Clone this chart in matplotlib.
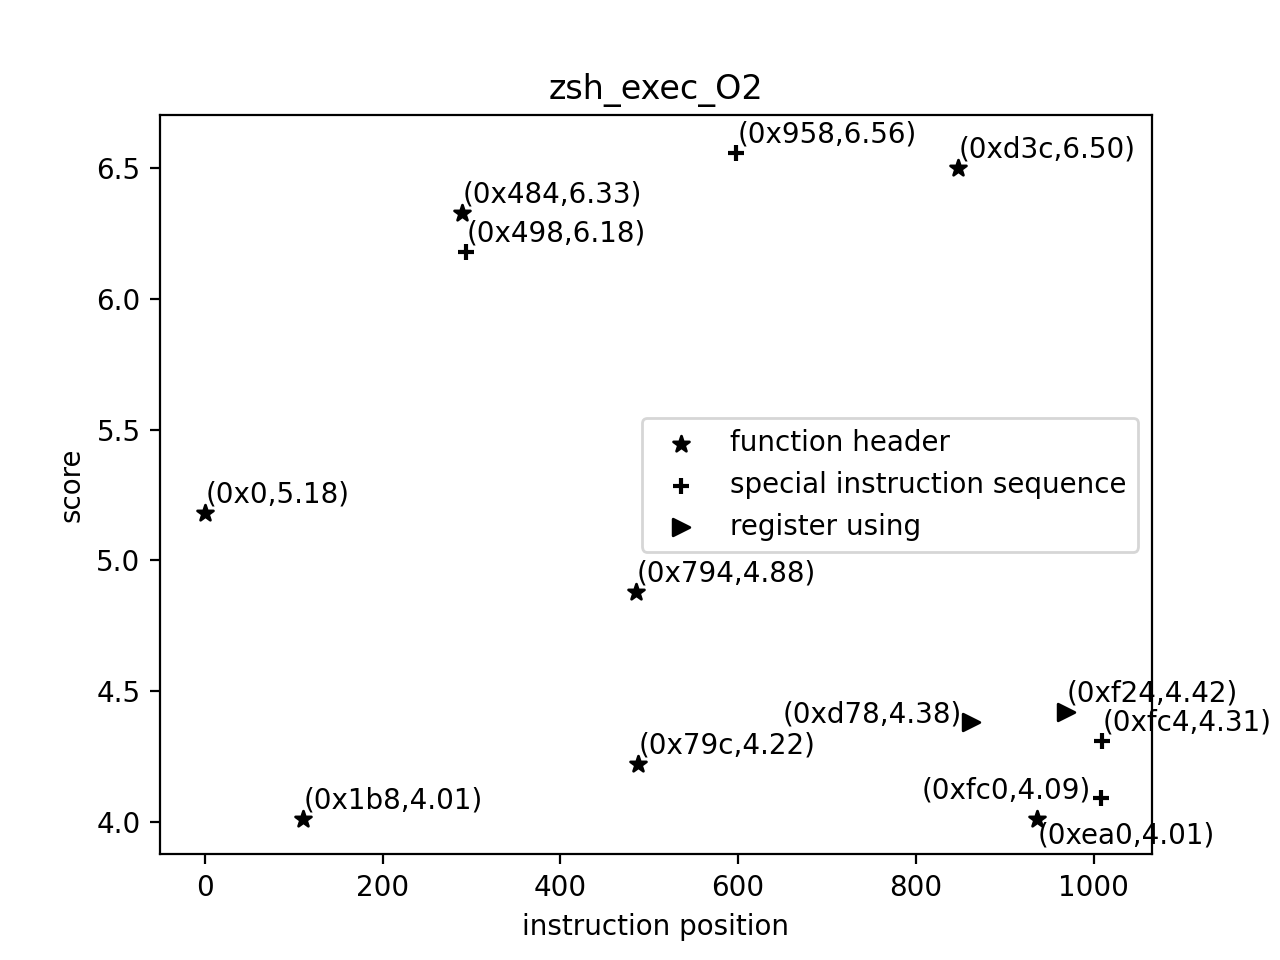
import matplotlib
matplotlib.use('Agg')
import matplotlib.pyplot as plt

# function header
header_hex = ['0x0', '0x1b8', '0x484', '0x794', '0x79c', '0xd3c', '0xea0']
header_pos = [0, 110, 289, 485, 487, 847, 936]
header_score = [5.18, 4.01, 6.33, 4.88, 4.22, 6.50, 4.01]

# special instruction sequence
special_hex = ['0x498', '0x958', '0xfc0', '0xfc4']
special_pos = [294, 598, 1008, 1009]
special_score = [6.18, 6.56, 4.09, 4.31]

# register using
register_hex = ['0xd78', '0xf24']
register_pos = [862, 969]
register_score = [4.38, 4.42]

# label placement (offset in points, horizontal alignment)
DEFAULT_OFFSET = ((0.3, 3.8), 'left')
LABEL_OFFSETS = {
    '0xea0': ((0.2, -8.6), 'left'),
    '0xfc0': ((-3.6, 0.0), 'right'),
    '0xd78': ((-3.2, 0.0), 'right'),
}


def annotate(ax, hexes, pos, scores):
    for h, x, y in zip(hexes, pos, scores):
        offset, ha = LABEL_OFFSETS.get(h, DEFAULT_OFFSET)
        ax.annotate(f'({h},{y:.2f})', (x, y), xytext=offset,
                    textcoords='offset points', ha=ha, va='baseline')


def main():
    fig, ax = plt.subplots(figsize=(6.4, 4.8), dpi=200)
    ax.scatter(header_pos, header_score, marker='*', color='black',
               label='function header')
    ax.scatter(special_pos, special_score, marker='+', color='black',
               label='special instruction sequence')
    ax.scatter(register_pos, register_score, marker='>', color='black',
               label='register using')
    annotate(ax, header_hex, header_pos, header_score)
    annotate(ax, special_hex, special_pos, special_score)
    annotate(ax, register_hex, register_pos, register_score)

    ax.set_xlim(-50.6, 1065.8)
    ax.set_ylim(3.875, 6.703)
    ax.set_title('zsh_exec_O2')
    ax.set_xlabel('instruction position')
    ax.set_ylabel('score')
    ax.legend(loc='center right')
    plt.savefig('out.png', dpi=200)


if __name__ == '__main__':
    main()
